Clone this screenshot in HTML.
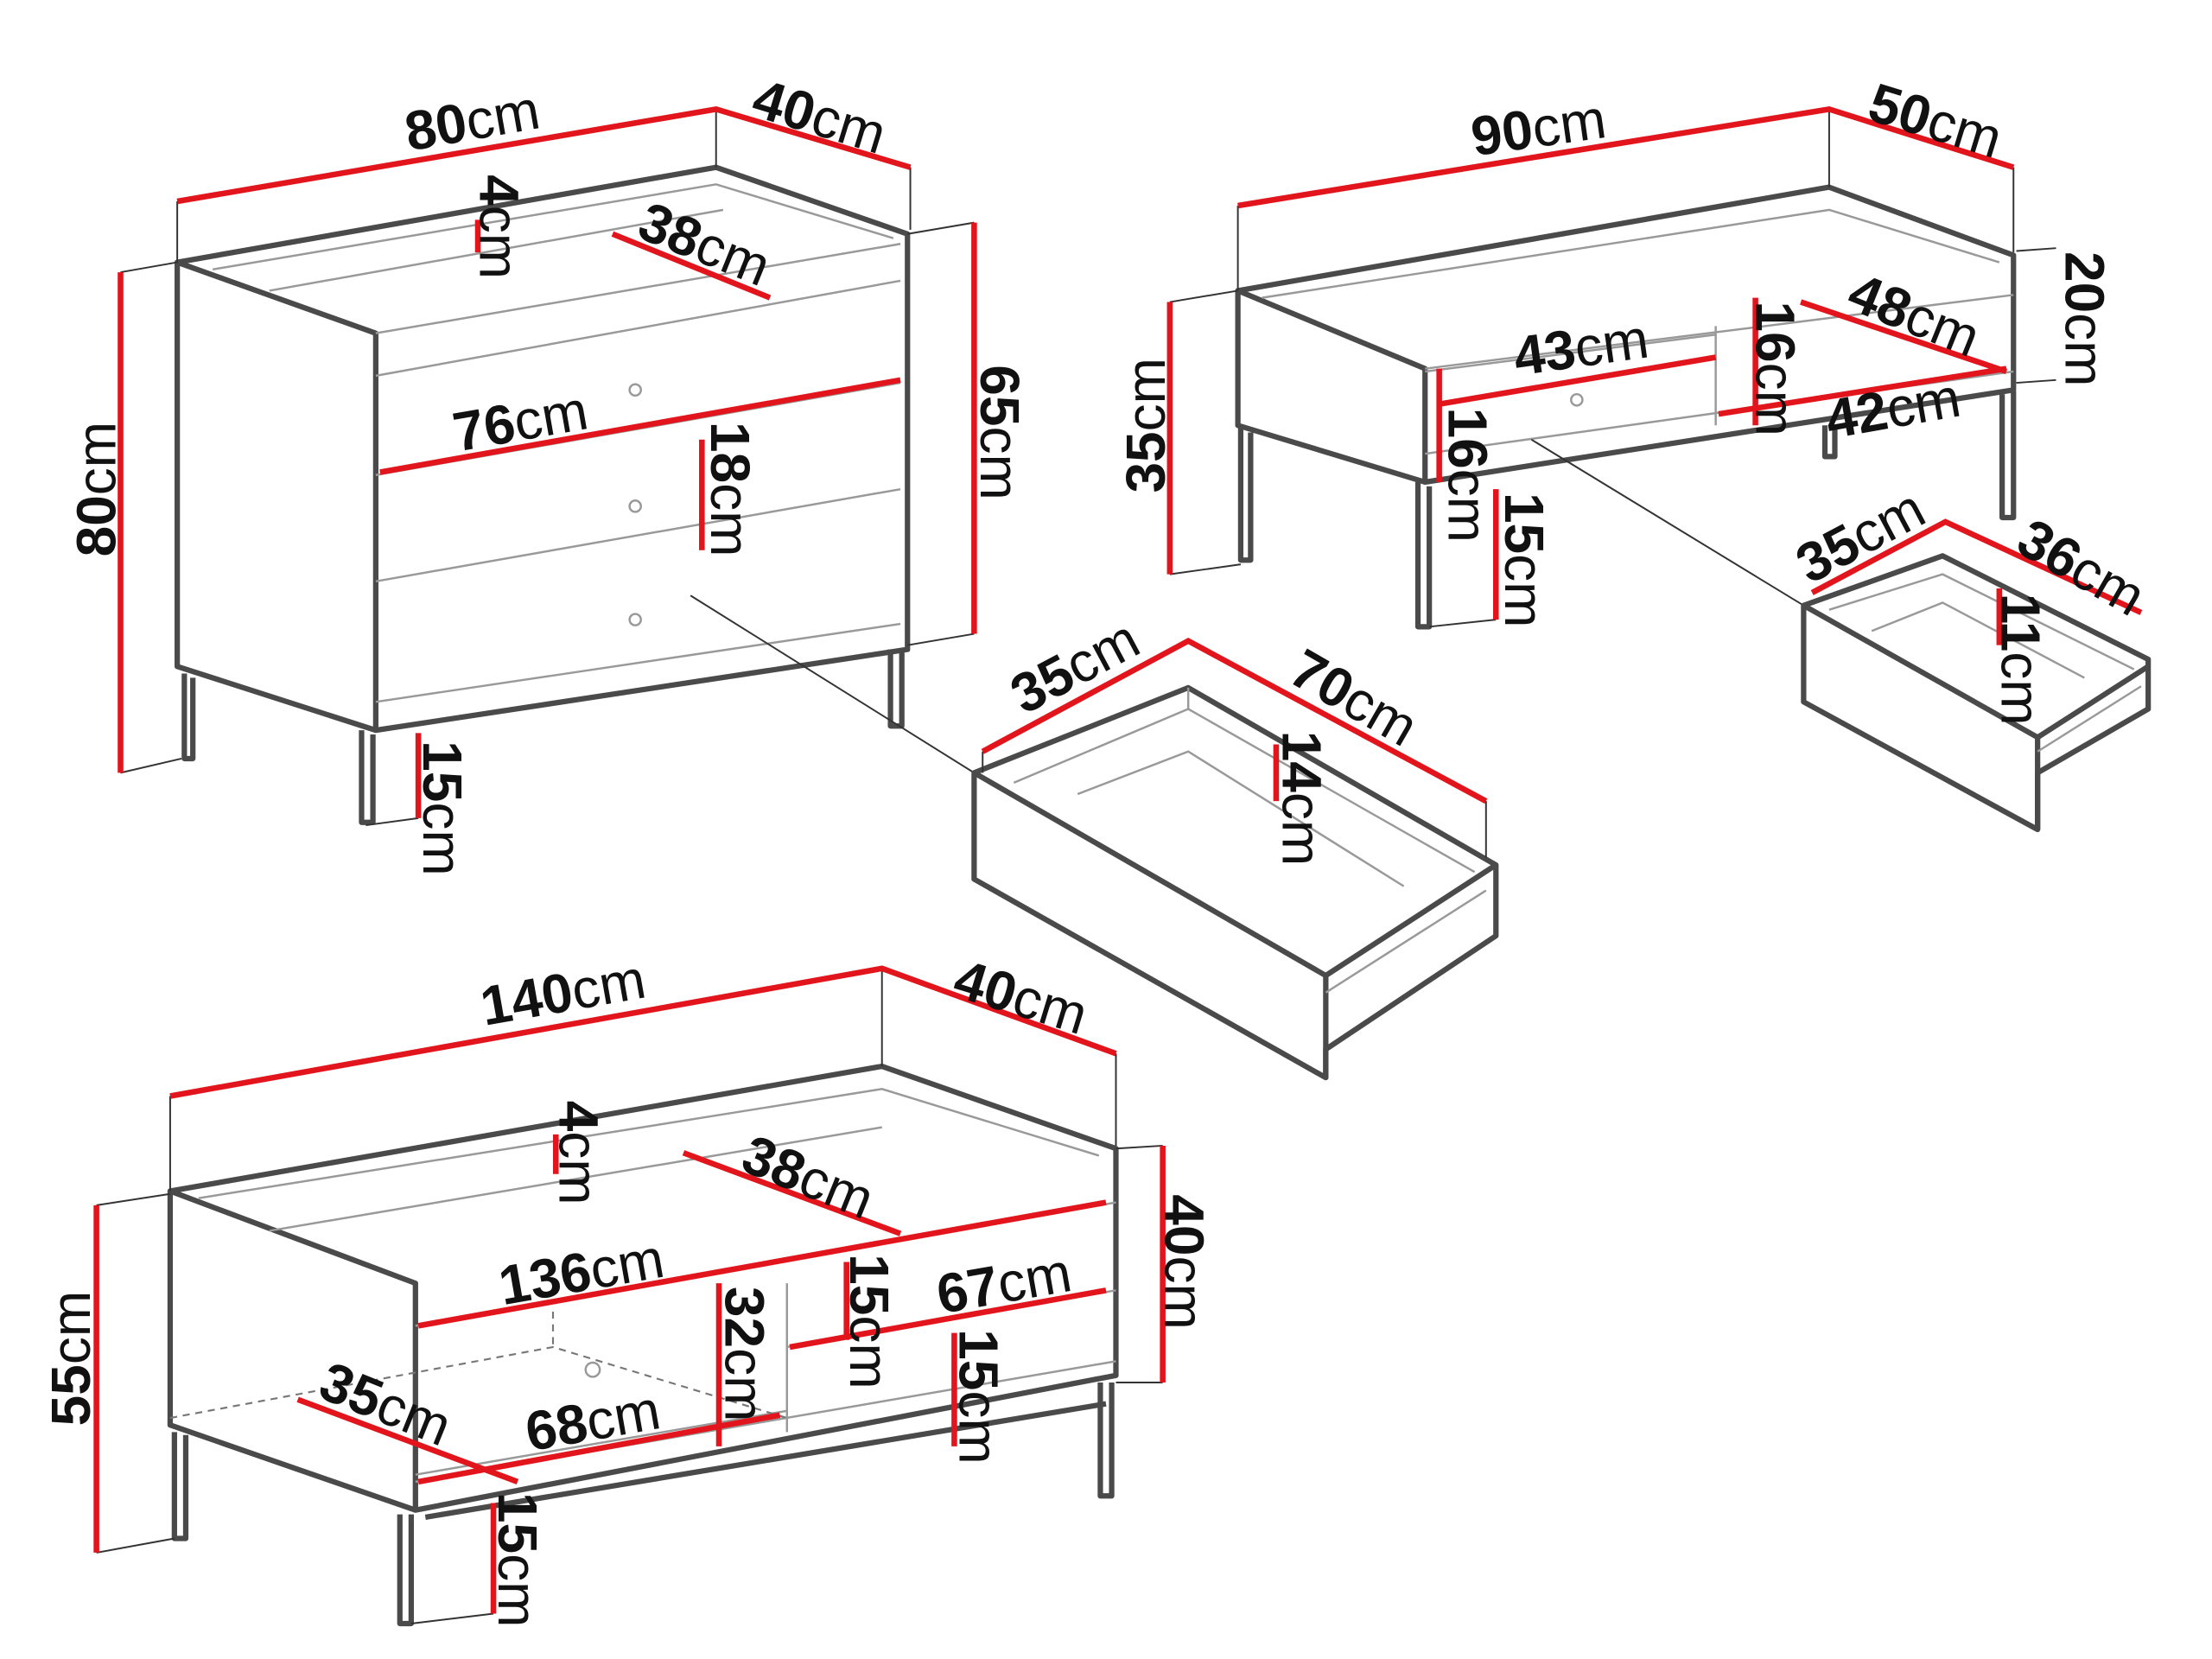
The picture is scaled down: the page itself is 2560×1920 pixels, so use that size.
<!DOCTYPE html>
<html><head><meta charset="utf-8"><style>
html,body{margin:0;padding:0;background:#fff;}
svg{display:block;}
text{font-family:"Liberation Sans",sans-serif;font-size:39px;fill:#111;text-anchor:middle;dominant-baseline:central;}
tspan.b{font-weight:bold;}
.g{stroke:#4a4a4a;stroke-width:3.8;fill:none;stroke-linejoin:round;}
.t{stroke:#333;stroke-width:1.2;fill:none;}
.l{stroke:#999;stroke-width:1.5;fill:none;}
.r{stroke:#e3151c;stroke-width:4;fill:none;}
.d{stroke:#777;stroke-width:1.3;fill:none;stroke-dasharray:5 4;}
</style></head><body>
<svg width="2560" height="1920" viewBox="0 0 1560 1170" xmlns="http://www.w3.org/2000/svg">
<g>
<path class="g" d="M125,185 L505,118 L640,165 L640,458 L265,515 L125,470 Z"/>
<path class="g" d="M125,185 L265,235 L265,515"/>
<path class="l" d="M265,235 L635,172 M150,190 L505,130 L630,168 M190,205 L510,148 M265,265 L635,198 M265,335 L635,270 M265,410 L635,345 M265,495 L635,440"/>
<path class="g" d="M130,475 L130,535 L136,535 L136,478 M255,515 L255,580 L263,580 L263,518 M628,458 L628,512 L636,512 L636,458"/>
<circle cx="448" cy="275" r="4" class="l"/><circle cx="448" cy="357" r="4" class="l"/><circle cx="448" cy="437" r="4" class="l"/>
<path class="t" d="M125,142 L125,185 M505,77 L505,118 M642,118 L642,162 M85,192 L125,185 M85,545 L128,535 M687,157 L640,165 M687,447 L640,455 M295,577 L258,582"/>
<path class="r" d="M125,142 L505,77 L642,118 M85,192 L85,545 M687,157 L687,447 M337,155 L337,178 M432,165 L543,210 M268,333 L635,268 M495,310 L495,388 M295,517 L295,577"/>
<path class="t" d="M487,420 L687,545"/>
</g>
<g>
<path class="g" d="M687,545 L838,485 L1055,610 L1055,660 L935,740 L935,760 L687,620 Z"/>
<path class="g" d="M687,545 L935,688 L935,760 M935,688 L1055,610"/>
<path class="l" d="M715,552 L838,500 L1040,615 M838,485 L838,500 M760,560 L838,530 L990,625 M935,700 L1048,628"/>
<path class="t" d="M693,530 L693,545 M1048,565 L1048,605"/>
<path class="r" d="M693,530 L838,452 L1048,565 M900,525 L900,565"/>
</g>
<g>
<path class="g" d="M873,205 L1290,132 L1420,180 L1420,275 L1005,340 L873,300 Z"/>
<path class="g" d="M873,205 L1005,260 L1005,340"/>
<path class="l" d="M1005,260 L1420,208 M890,210 L1290,148 L1410,185 M1005,320 L1420,262 M1210,230 L1210,300 M1005,262 L1210,236"/>
<path class="g" d="M875,300 L875,395 L882,395 L882,305 M1000,340 L1000,442 L1008,442 L1008,343 M1412,278 L1412,365 L1420,365 L1420,276 M1287,300 L1287,322 L1294,322 L1294,300"/>
<circle cx="1112" cy="282" r="4" class="l"/>
<path class="t" d="M873,145 L873,205 M1290,77 L1290,132 M1420,118 L1420,178 M825,213 L873,205 M825,405 L875,398 M1422,177 L1450,175 M1422,270 L1450,268 M1055,437 L1008,442"/>
<path class="r" d="M873,145 L1290,77 L1420,118 M825,213 L825,405 M1015,285 L1210,252 M1015,260 L1015,340 M1238,210 L1238,300 M1270,213 L1415,262 M1212,292 L1415,260 M1055,345 L1055,437"/>
<path class="t" d="M1080,310 L1272,427"/>
</g>
<g>
<path class="g" d="M1272,427 L1370,392 L1515,465 L1515,500 L1437,545 L1437,585 L1272,495 Z"/>
<path class="g" d="M1272,427 L1437,520 L1437,585 M1437,520 L1515,470"/>
<path class="l" d="M1290,430 L1370,405 L1505,472 M1320,445 L1370,425 L1470,478 M1437,530 L1510,484"/>
<path class="r" d="M1278,418 L1372,368 L1510,432 M1410,415 L1410,455"/>
</g>
<g>
<path class="g" d="M120,840 L622,752 L787,810 L787,970 L293,1065 L120,1005 Z"/>
<path class="g" d="M120,840 L293,905 L293,1065"/>
<path class="l" d="M293,935 L787,848 M140,845 L622,768 L775,815 M190,868 L622,795 M555,905 L555,1010 M555,950 L787,910 M293,1045 L787,960 M293,1040 L555,995"/>
<path class="d" d="M120,1000 L390,950 L555,1000 M390,925 L390,950"/>
<circle cx="418" cy="966" r="5" class="l"/>
<path class="g" d="M123,1010 L123,1085 L131,1085 L131,1012 M282,1068 L282,1145 L290,1145 L290,1068 M776,975 L776,1055 L784,1055 L784,975 M300,1070 L780,990"/>
<path class="t" d="M120,773 L120,840 M622,683 L622,752 M787,743 L787,808 M68,850 L120,842 M68,1095 L123,1085 M820,808 L787,810 M820,975 L787,975 M348,1138 L290,1145"/>
<path class="r" d="M120,773 L622,683 L787,743 M68,850 L68,1095 M820,808 L820,975 M392,800 L392,828 M482,813 L635,870 M295,935 L780,848 M597,890 L597,945 M557,950 L780,910 M507,905 L507,1020 M673,940 L673,1020 M210,987 L365,1045 M295,1045 L550,998 M348,1060 L348,1138"/>
</g>
<g>
<text transform="translate(333,85) rotate(-10)"><tspan class="b">80</tspan>cm</text>
<text transform="translate(578,82) rotate(17)"><tspan class="b">40</tspan>cm</text>
<text transform="translate(352,160) rotate(90)"><tspan class="b">4</tspan>cm</text>
<text transform="translate(497,172) rotate(22)"><tspan class="b">38</tspan>cm</text>
<text transform="translate(367,297) rotate(-10)"><tspan class="b">76</tspan>cm</text>
<text transform="translate(515,345) rotate(90)"><tspan class="b">18</tspan>cm</text>
<text transform="translate(705,305) rotate(90)"><tspan class="b">65</tspan>cm</text>
<text transform="translate(68,345) rotate(-90)"><tspan class="b">80</tspan>cm</text>
<text transform="translate(312,570) rotate(90)"><tspan class="b">15</tspan>cm</text>
<text transform="translate(758,470) rotate(-28)"><tspan class="b">35</tspan>cm</text>
<text transform="translate(955,492) rotate(30)"><tspan class="b">70</tspan>cm</text>
<text transform="translate(918,563) rotate(90)"><tspan class="b">14</tspan>cm</text>
<text transform="translate(1085,90) rotate(-8)"><tspan class="b">90</tspan>cm</text>
<text transform="translate(1365,85) rotate(17)"><tspan class="b">50</tspan>cm</text>
<text transform="translate(1470,225) rotate(90)"><tspan class="b">20</tspan>cm</text>
<text transform="translate(808,300) rotate(-90)"><tspan class="b">35</tspan>cm</text>
<text transform="translate(1115,245) rotate(-8)"><tspan class="b">43</tspan>cm</text>
<text transform="translate(1252,260) rotate(90)"><tspan class="b">16</tspan>cm</text>
<text transform="translate(1350,222) rotate(22)"><tspan class="b">48</tspan>cm</text>
<text transform="translate(1335,288) rotate(-10)"><tspan class="b">42</tspan>cm</text>
<text transform="translate(1035,335) rotate(90)"><tspan class="b">16</tspan>cm</text>
<text transform="translate(1075,395) rotate(90)"><tspan class="b">15</tspan>cm</text>
<text transform="translate(1312,378) rotate(-28)"><tspan class="b">35</tspan>cm</text>
<text transform="translate(1468,400) rotate(30)"><tspan class="b">36</tspan>cm</text>
<text transform="translate(1425,465) rotate(90)"><tspan class="b">11</tspan>cm</text>
<text transform="translate(397,700) rotate(-10)"><tspan class="b">140</tspan>cm</text>
<text transform="translate(720,703) rotate(17)"><tspan class="b">40</tspan>cm</text>
<text transform="translate(408,813) rotate(90)"><tspan class="b">4</tspan>cm</text>
<text transform="translate(570,830) rotate(22)"><tspan class="b">38</tspan>cm</text>
<text transform="translate(410,897) rotate(-10)"><tspan class="b">136</tspan>cm</text>
<text transform="translate(613,932) rotate(90)"><tspan class="b">15</tspan>cm</text>
<text transform="translate(708,905) rotate(-10)"><tspan class="b">67</tspan>cm</text>
<text transform="translate(525,955) rotate(90)"><tspan class="b">32</tspan>cm</text>
<text transform="translate(690,985) rotate(90)"><tspan class="b">15</tspan>cm</text>
<text transform="translate(272,990) rotate(22)"><tspan class="b">35</tspan>cm</text>
<text transform="translate(418,1002) rotate(-10)"><tspan class="b">68</tspan>cm</text>
<text transform="translate(365,1100) rotate(90)"><tspan class="b">15</tspan>cm</text>
<text transform="translate(835,890) rotate(90)"><tspan class="b">40</tspan>cm</text>
<text transform="translate(50,958) rotate(-90)"><tspan class="b">55</tspan>cm</text>
</g>
</svg>
</body></html>
